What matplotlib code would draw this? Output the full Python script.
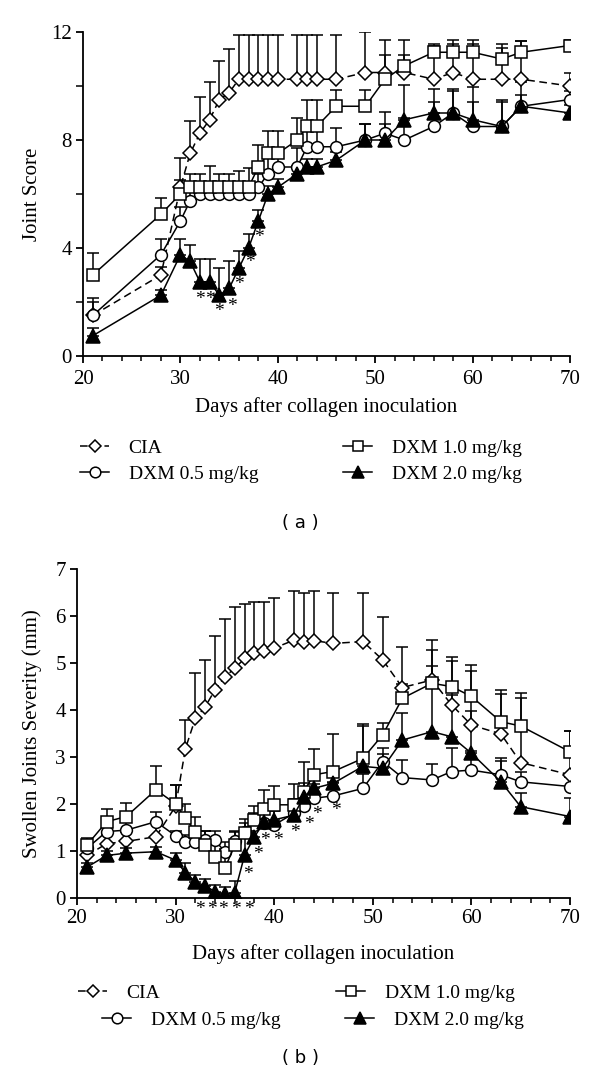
import matplotlib.pyplot as plt
from matplotlib.lines import Line2D
import numpy as np

# ---- panel (a): joint score ----
days_a = [21, 28, 30, 31, 32, 33, 34, 35, 36, 37, 38, 39, 40, 42, 43, 44, 46, 49, 51, 53, 56, 58, 60, 63, 65, 70]
cia_a = [1.5, 3.0, 6.25, 7.5, 8.25, 8.75, 9.5, 9.75, 10.25, 10.25, 10.25, 10.25, 10.25, 10.25, 10.25, 10.25,
         10.25, 10.5, 10.5, 10.5, 10.25, 10.5, 10.25, 10.25, 10.25, 10.0]
cia_a_err = [0.65, 0.3, 1.1, 1.22, 1.33, 1.41, 1.42, 1.62, 1.65, 1.65, 1.65, 1.65, 1.65, 1.65, 1.65, 1.65,
             1.65, 1.5, 1.2, 1.2, 1.25, 1.2, 1.45, 1.3, 1.4, 0.5]
dxm10_a = [3.0, 5.25, 6.0, 6.25, 6.25, 6.25, 6.25, 6.25, 6.25, 6.25, 7.0, 7.5, 7.5, 8.0, 8.5, 8.5,
           9.25, 9.25, 10.25, 10.75, 11.25, 11.25, 11.25, 11.0, 11.25, 11.5]
dxm10_a_err = [0.8, 0.6, 0.5, 0.5, 0.5, 0.8, 0.5, 0.5, 0.6, 0.7, 0.8, 0.85, 0.85, 0.8, 1.0, 1.0,
               0.6, 0.6, 0.9, 0.4, 0.3, 0.3, 0.3, 0.4, 0.4, 0.2]
dxm05_a = [1.5, 3.75, 5.0, 5.75, 6.0, 6.0, 6.0, 6.0, 6.0, 6.0, 6.25, 6.75, 7.0, 7.0, 7.75, 7.75,
           7.75, 8.0, 8.25, 8.0, 8.5, 9.0, 8.5, 8.5, 9.25, 9.5]
dxm05_a_err = [0.5, 0.6, 0.5, 0.5, 0.4, 0.4, 0.4, 0.4, 0.4, 0.4, 0.5, 0.8, 0.5, 0.7, 0.75, 0.75,
               0.7, 0.6, 0.8, 0.8, 0.9, 0.8, 0.9, 0.9, 0.9, 0.3]
dxm20_a = [0.75, 2.25, 3.75, 3.5, 2.75, 2.75, 2.25, 2.5, 3.25, 4.0, 5.0, 6.0, 6.25, 6.75, 7.0, 7.0,
           7.25, 8.0, 8.0, 8.75, 9.0, 9.0, 8.75, 8.5, 9.25, 9.0]
dxm20_a_err = [0.3, 0.2, 0.6, 0.6, 0.85, 0.85, 1.0, 1.0, 0.65, 0.5, 0.4, 0.3, 0.3, 0.3, 0.3, 0.3,
               0.3, 0.6, 0.6, 1.3, 0.9, 0.9, 1.2, 1.0, 0.4, 0.3]
stars_a_x = [32, 33, 34, 35.3, 36, 37.1, 38.1]
stars_a_y = [2.1, 2.1, 1.65, 1.85, 2.65, 3.45, 4.4]

# ---- panel (b): swollen joints severity ----
days_b = [21, 23, 25, 28, 30, 31, 32, 33, 34, 35, 36, 37, 38, 39, 40, 42, 43, 44, 46, 49, 51, 53, 56, 58, 60, 63, 65, 70]
cia_b = [0.9, 1.15, 1.2, 1.3, 1.95, 3.18, 3.82, 4.07, 4.43, 4.71, 4.89, 5.1, 5.21, 5.25, 5.32, 5.49, 5.46, 5.48,
         5.42, 5.46, 5.07, 4.48, 4.64, 4.11, 3.68, 3.49, 2.88, 2.62]
cia_b_err = [0.2, 0.2, 0.2, 0.3, 0.45, 0.6, 0.98, 1.0, 1.14, 1.22, 1.3, 1.16, 1.09, 1.05, 1.06, 1.05, 1.03, 1.06,
             1.07, 1.03, 0.91, 0.87, 0.85, 1.03, 1.28, 0.94, 1.37, 0.93]
dxm10_b = [1.12, 1.62, 1.73, 2.3, 2.0, 1.69, 1.41, 1.12, 0.87, 0.63, 1.12, 1.37, 1.66, 1.9, 1.98, 1.98, 2.26, 2.62,
           2.69, 2.97, 3.47, 4.25, 4.57, 4.5, 4.29, 3.75, 3.66, 3.11]
dxm10_b_err = [0.15, 0.28, 0.28, 0.5, 0.4, 0.3, 0.3, 0.3, 0.3, 0.4, 0.3, 0.3, 0.3, 0.4, 0.4, 0.45, 0.63, 0.55,
               0.8, 0.73, 0.25, 0.3, 0.7, 0.55, 0.55, 0.6, 0.7, 0.45]
dxm05_b = [1.05, 1.41, 1.44, 1.62, 1.32, 1.19, 1.19, 1.22, 1.22, 0.98, 1.2, 1.4, 1.55, 1.6, 1.55, 1.8, 1.95, 2.12,
           2.17, 2.33, 2.9, 2.56, 2.51, 2.69, 2.72, 2.62, 2.47, 2.37]
dxm05_b_err = [0.1, 0.2, 0.2, 0.2, 0.1, 0.15, 0.15, 0.2, 0.2, 0.2, 0.2, 0.2, 0.25, 0.3, 0.3, 0.3, 0.3, 0.3,
               0.3, 0.3, 0.3, 0.38, 0.35, 0.5, 0.4, 0.3, 0.2, 0.2]
dxm20_b = [0.65, 0.9, 0.95, 0.98, 0.8, 0.53, 0.34, 0.25, 0.13, 0.08, 0.11, 0.91, 1.3, 1.62, 1.66, 1.76, 2.15, 2.33,
           2.44, 2.8, 2.76, 3.36, 3.54, 3.43, 3.08, 2.47, 1.94, 1.73]
dxm20_b_err = [0.1, 0.1, 0.1, 0.1, 0.15, 0.2, 0.15, 0.15, 0.15, 0.15, 0.25, 0.4, 0.3, 0.3, 0.3, 0.3, 0.3, 0.3,
               0.3, 0.85, 0.3, 0.57, 1.4, 0.9, 0.9, 0.5, 0.3, 0.4]
stars_b_x = [32.5, 33.7, 34.8, 36.1, 37.4, 37.3, 38.3, 39.1, 40.4, 42.1, 43.5, 44.3, 46.3]
stars_b_y = [-0.25, -0.25, -0.25, -0.25, -0.25, 0.5, 0.93, 1.22, 1.22, 1.4, 1.57, 1.78, 1.85]

labels = ["CIA", "DXM 0.5 mg/kg", "DXM 1.0 mg/kg", "DXM 2.0 mg/kg"]
styles = [dict(marker='D', ms=7, mfc='white', ls=(0, (5, 3))),
          dict(marker='o', ms=8.5, mfc='white', ls='-'),
          dict(marker='s', ms=8, mfc='white', ls='-'),
          dict(marker='^', ms=9.5, mfc='black', ls='-')]

SERIF = 'Liberation Serif'
plt.rcParams['font.family'] = SERIF
lw = 1.1

fig = plt.figure(figsize=(6, 10.82), dpi=100)
ax_a = fig.add_axes([83 / 600, 1 - 356 / 1082, 487 / 600, 324 / 1082])
ax_b = fig.add_axes([77 / 600, 1 - 897.7 / 1082, 493 / 600, 328.4 / 1082])


def draw(ax, days, series):
    # order: CIA, 1.0, 0.5, 2.0 so filled triangles end on top
    for idx in [0, 2, 1, 3]:
        vals, err = series[idx]
        st = styles[idx]
        ax.errorbar(days, vals, yerr=[np.zeros(len(err)), err], fmt='none', ecolor='k',
                    elinewidth=lw, capsize=4.3, capthick=lw, zorder=2)
        ax.plot(days, vals, color='k', lw=lw, marker=st['marker'], ms=st['ms'], mfc=st['mfc'],
                mec='k', mew=lw, linestyle=st['ls'], zorder=3 + idx * 0.1)


draw(ax_a, days_a, [(cia_a, cia_a_err), (dxm05_a, dxm05_a_err), (dxm10_a, dxm10_a_err), (dxm20_a, dxm20_a_err)])
draw(ax_b, days_b, [(cia_b, cia_b_err), (dxm05_b, dxm05_b_err), (dxm10_b, dxm10_b_err), (dxm20_b, dxm20_b_err)])

for x, y in zip(stars_a_x, stars_a_y):
    ax_a.text(x, y, '*', ha='center', va='center', fontsize=14, clip_on=False)
for x, y in zip(stars_b_x, stars_b_y):
    ax_b.text(x, y, '*', ha='center', va='center', fontsize=14, clip_on=False)

for ax, ymax, yticks in [(ax_a, 12, [0, 4, 8, 12]), (ax_b, 7, list(range(8)))]:
    ax.set_xlim(20, 70)
    ax.set_ylim(0, ymax)
    ax.set_xticks([20, 30, 40, 50, 60, 70])
    ax.set_xticks(np.arange(20, 71, 2), minor=True)
    ax.set_yticks(yticks)
    for s in ['top', 'right']:
        ax.spines[s].set_visible(False)
    for s in ['left', 'bottom']:
        ax.spines[s].set_linewidth(1.3)
    ax.tick_params(which='major', direction='out', length=5, width=1.3, labelsize=15, pad=3)
    ax.tick_params(which='minor', direction='out', length=3.5, width=1.1)
    ax.set_xlabel("Days after collagen inoculation", fontsize=15)

ax_a.tick_params(axis='x', which='major', pad=5)
ax_a.set_yticks([2, 6, 10], minor=True)
ax_a.tick_params(axis='y', which='minor', length=5)
ax_a.set_ylabel("Joint Score", fontsize=15)
ax_b.set_ylabel("Swollen Joints Severity (mm)", fontsize=15)
ax_a.yaxis.set_label_coords(-0.085, 0.5)
ax_b.yaxis.set_label_coords(-0.072, 0.5)
ax_a.xaxis.set_label_coords(0.5, -0.128)
ax_b.xaxis.set_label_coords(0.5, -0.14)

# legends, one entry each so the positions can follow the reference
legend_pos = [
    # (label index, handle left px, y px)
    [(0, 80, 448), (1, 80, 474), (2, 343, 448), (3, 343, 474)],
    [(0, 78, 993), (1, 102, 1020), (2, 336, 993), (3, 345, 1020)],
]
for entries in legend_pos:
    for idx, xpx, ypx in entries:
        st = styles[idx]
        h = Line2D([], [], color='k', lw=lw, marker=st['marker'], ms=st['ms'] * 0.9, mfc=st['mfc'],
                   mec='k', mew=lw, linestyle=st['ls'])
        fig.legend(handles=[h], labels=[labels[idx]], loc='center left',
                   bbox_to_anchor=(xpx / 600, 1 - ypx / 1082), frameon=False, borderpad=0,
                   borderaxespad=0, handlelength=1.5, handletextpad=1.0, fontsize=14)

fig.text(0.5, 1 - 523 / 1082, "( a )", ha='center', va='center', fontsize=13, family='DejaVu Sans')
fig.text(0.5, 1 - 1058 / 1082, "( b )", ha='center', va='center', fontsize=13, family='DejaVu Sans')

fig.savefig('out.png', dpi=100)
